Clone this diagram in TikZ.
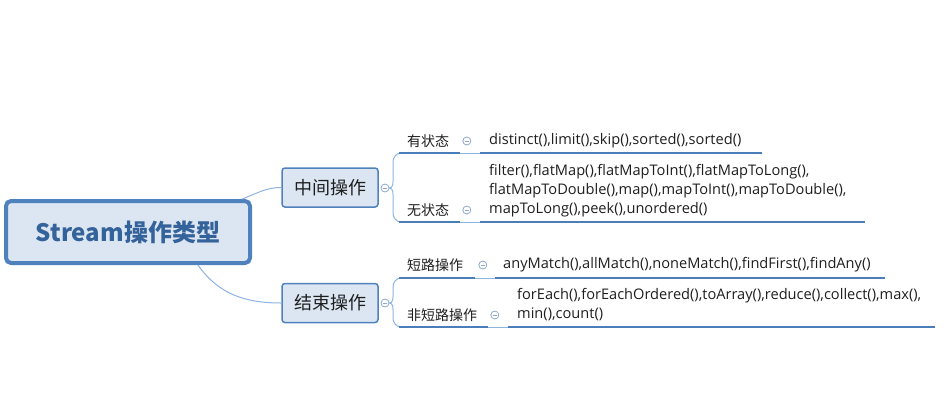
\documentclass[tikz,border=0pt]{standalone}
\usepackage{fontspec}
\setmainfont{Noto Sans CJK SC}
\newfontfamily\leaffont{Open Sans}
\usetikzlibrary{positioning}
\definecolor{boxline}{HTML}{4F81BD}
\definecolor{boxfill}{HTML}{DCE6F2}
\definecolor{twigc}{HTML}{8DB3E2}
\definecolor{ulinec}{HTML}{4A7EBB}
\definecolor{rootc}{HTML}{34629A}
\definecolor{foldc}{HTML}{8FA9CC}
\definecolor{inkc}{HTML}{1E1E1E}
\tikzset{
  rootnode/.style = {rectangle, rounded corners=5pt, draw=boxline, fill=boxfill,
    line width=4pt, minimum width=244pt, minimum height=62pt,
    font=\fontsize{24}{28}\selectfont\bfseries, text=rootc},% central topic
  topic/.style = {rectangle, rounded corners=3pt, draw=boxline, fill=boxfill,
    line width=1.5pt, minimum width=96pt, minimum height=39pt,
    font=\fontsize{18}{22}\selectfont, text=inkc},% main branch
  lab/.style = {anchor=west, inner sep=0pt, font=\fontsize{14}{16}\selectfont,
    text=inkc},% sub topic label
  leaf/.style = {anchor=west, align=left, inner sep=0pt,
    font=\leaffont\fontsize{14.6}{19}\selectfont, text=inkc},% method list
  fold/.style = {circle, draw=foldc, fill=white, line width=0.8pt, inner sep=0pt,
    minimum size=8pt, path picture={\draw[foldc, line width=0.8pt]
      ([xshift=2pt]path picture bounding box.west) --
      ([xshift=-2pt]path picture bounding box.east);}},% collapse mark
  twig/.style = {draw=twigc, line width=1pt},
  uline/.style = {draw=ulinec, line width=2pt}
}

\begin{document}
\begin{tikzpicture}[x=1pt, y=-1pt]
\useasboundingbox (0,0) rectangle (944,416);
\node [rootnode] (root) at (128,232) {Stream操作类型};
\node [topic] (mid) at (330,187.5) {中间操作};
\node [topic] (fin) at (330,303) {结束操作};
\node [fold] (fmid) at (385,188) {};
\node [fold] (ffin) at (385,303) {};
\draw [twig] ([xshift=-10pt]root.north east) to[out=20, in=180] (mid.west);
\draw [twig] ([xshift=-54pt]root.south east) to[out=-55, in=180] (fin.west);

% 中间操作
\node [lab] (ys) at (407,141) {有状态};
\node [fold, right=13pt of ys] (fys) {};
\node [leaf] (ysops) at (489,141) {distinct(),limit(),skip(),sorted(),sorted()};
\node [lab] (ws) at (407,210) {无状态};
\node [fold, right=13pt of ws] (fws) {};
\node [leaf] (wsops) at (489,191) {filter(),flatMap(),flatMapToInt(),flatMapToLong(),\\
  flatMapToDouble(),map(),mapToInt(),mapToDouble(),\\ mapToLong(),peek(),unordered()};
\coordinate (ysA) at (460,153); \coordinate (ysB) at (480,153); \coordinate (ysC) at (762,153);
\coordinate (wsA) at (460,222); \coordinate (wsB) at (480,222); \coordinate (wsC) at (865,222);
\draw [twig] (fmid.east) to[out=0, in=-90] (393,178) -- (393,162) to[out=90, in=180] (401,153);
\draw [twig] (fmid.east) to[out=0, in=90] (393,198) -- (393,213) to[out=-90, in=180] (401,222);
\draw [uline] (399,153) -- (ysA);
\draw [twig] (ysA) -- (ysB);
\draw [uline] (ysB) -- (ysC);
\draw [uline] (399,222) -- (wsA);
\draw [twig] (wsA) -- (wsB);
\draw [uline] (wsB) -- (wsC);

% 结束操作
\node [lab] (dl) at (407,265) {短路操作};
\node [fold, right=15pt of dl] (fdl) {};
\node [leaf] (dlops) at (503,265) {anyMatch(),allMatch(),noneMatch(),findFirst(),findAny()};
\node [lab] (fdlab) at (407,315) {非短路操作};
\node [fold, right=13pt of fdlab] (ffd) {};
\node [leaf] (fdops) at (517,305) {forEach(),forEachOrdered(),toArray(),reduce(),collect(),max(),\\ min(),count()};
\coordinate (dlA) at (475,278); \coordinate (dlB) at (495,278); \coordinate (dlC) at (885,278);
\coordinate (fdA) at (488,327); \coordinate (fdB) at (508,327); \coordinate (fdC) at (935,327);
\draw [twig] (ffin.east) to[out=0, in=-90] (393,293) -- (393,287) to[out=90, in=180] (401,278);
\draw [twig] (ffin.east) to[out=0, in=90] (393,313) -- (393,318) to[out=-90, in=180] (401,327);
\draw [uline] (399,278) -- (dlA);
\draw [twig] (dlA) -- (dlB);
\draw [uline] (dlB) -- (dlC);
\draw [uline] (399,327) -- (fdA);
\draw [twig] (fdA) -- (fdB);
\draw [uline] (fdB) -- (fdC);
\end{tikzpicture}
\end{document}
